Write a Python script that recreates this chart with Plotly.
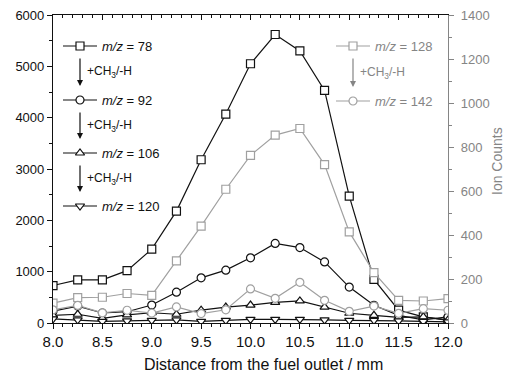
import plotly.graph_objects as go

# ---- data ----
distance = [8.0, 8.25, 8.5, 8.75, 9.0, 9.25, 9.5, 9.75, 10.0, 10.25, 10.5, 10.75, 11.0, 11.25, 11.5, 11.75, 12.0]
mz78 = [730, 840, 840, 1020, 1440, 2180, 3180, 4070, 5050, 5620, 5300, 4530, 2470, 850, 250, 120, 50]
mz92 = [230, 330, 195, 220, 350, 600, 880, 1030, 1270, 1550, 1470, 1190, 700, 345, 150, 60, 120]
mz106 = [150, 170, 90, 160, 200, 170, 250, 310, 350, 400, 430, 310, 190, 150, 110, 120, 60]
mz120 = [80, 60, 30, 40, 50, 60, 30, 50, 70, 70, 70, 60, 50, 50, 40, 30, 20]
mz128 = [90, 115, 117, 134, 126, 282, 440, 608, 762, 854, 884, 720, 414, 229, 103, 100, 111]
mz142 = [60, 80, 46, 58, 45, 73, 43, 60, 155, 112, 185, 103, 53, 77, 44, 65, 58]
x_ticks = [8.0, 8.5, 9.0, 9.5, 10.0, 10.5, 11.0, 11.5, 12.0]
x_ticktext = ["8.0", "8.5", "9.0", "9.5", "10.0", "10.5", "11.0", "11.5", "12.0"]

left_series = [("78", mz78, "square"), ("92", mz92, "circle"),
               ("106", mz106, "triangle-up"), ("120", mz120, "triangle-down")]
right_series = [("128", mz128, "square"), ("142", mz142, "circle")]

BLACK = "#111111"
GRAY = "#a0a0a0"
AXGRAY = "#858585"
FONT = "Liberation Sans, Arial, sans-serif"

W, H = 509, 377
L, R, T, B = 53, 61, 15, 54
PW, PH = W - L - R, H - B - T

fig = go.Figure()

for name, vals, sym in right_series:
    fig.add_trace(go.Scatter(x=distance, y=vals, mode="lines+markers", yaxis="y2",
                             line=dict(color=GRAY, width=1.2),
                             marker=dict(symbol=sym, size=8, color="white",
                                         line=dict(color=GRAY, width=1.2)),
                             showlegend=False))
for name, vals, sym in left_series:
    fig.add_trace(go.Scatter(x=distance, y=vals, mode="lines+markers",
                             line=dict(color=BLACK, width=1.2),
                             marker=dict(symbol=sym, size=8, color="white",
                                         line=dict(color=BLACK, width=1.2)),
                             showlegend=False))

# top axis with inward ticks (invisible helper trace)
fig.add_trace(go.Scatter(x=[8, 12], y=[0, 0], xaxis="x2", mode="markers",
                         marker=dict(opacity=0), showlegend=False, hoverinfo="skip"))

# ---- custom legends on a pixel-coordinate overlay axis ----
def leg_sample(xc, yc, sym, color):
    fig.add_trace(go.Scatter(x=[xc - 17, xc + 17], y=[yc, yc], xaxis="x3", yaxis="y3",
                             mode="lines", line=dict(color=color, width=1.2),
                             showlegend=False, hoverinfo="skip"))
    fig.add_trace(go.Scatter(x=[xc], y=[yc], xaxis="x3", yaxis="y3", mode="markers",
                             marker=dict(symbol=sym, size=8, color="white",
                                         line=dict(color=color, width=1.2)),
                             showlegend=False, hoverinfo="skip"))

annotations = []
left_y = [46, 100, 153, 206]
for (name, vals, sym), yy in zip(left_series, left_y):
    leg_sample(80, yy, sym, BLACK)
    annotations.append(dict(x=100, y=yy, xref="x3", yref="y3", xanchor="left", yanchor="middle",
                            text=f"<i>m/z</i> = {name}", showarrow=False,
                            font=dict(family=FONT, size=13, color=BLACK)))
for y0, y1 in zip(left_y[:-1], left_y[1:]):
    annotations.append(dict(x=80, y=y1 - 14, xref="x3", yref="y3", ax=80, ay=y0 + 11,
                            axref="x3", ayref="y3", text="", showarrow=True,
                            arrowhead=2, arrowsize=1, arrowwidth=1.2, arrowcolor=BLACK))
    annotations.append(dict(x=85, y=(y0 + y1) / 2 - 1, xref="x3", yref="y3", xanchor="left",
                            yanchor="middle", text="+CH<sub>3</sub>/-H", showarrow=False,
                            font=dict(family=FONT, size=12, color=BLACK)))

right_y = [46, 101]
for (name, vals, sym), yy in zip(right_series, right_y):
    leg_sample(353, yy, sym, GRAY)
    annotations.append(dict(x=373, y=yy, xref="x3", yref="y3", xanchor="left", yanchor="middle",
                            text=f"<i>m/z</i> = {name}", showarrow=False,
                            font=dict(family=FONT, size=13, color=AXGRAY)))
annotations.append(dict(x=353, y=right_y[1] - 14, xref="x3", yref="y3", ax=353, ay=right_y[0] + 11,
                        axref="x3", ayref="y3", text="", showarrow=True,
                        arrowhead=2, arrowsize=1, arrowwidth=1.2, arrowcolor=AXGRAY))
annotations.append(dict(x=358, y=(right_y[0] + right_y[1]) / 2 - 1, xref="x3", yref="y3",
                        xanchor="left", yanchor="middle", text="+CH<sub>3</sub>/-H",
                        showarrow=False, font=dict(family=FONT, size=12, color=AXGRAY)))
# right axis title
annotations.append(dict(x=(497 - L) / PW, y=(H - B - 161) / PH, xref="paper", yref="paper",
                        xanchor="center", yanchor="middle", textangle=-90, text="Ion Counts",
                        showarrow=False, font=dict(family=FONT, size=14, color=AXGRAY)))
# x axis title
annotations.append(dict(x=(263 - L) / PW, y=(H - B - 364) / PH, xref="paper", yref="paper",
                        xanchor="center", yanchor="middle", text="Distance from the fuel outlet / mm",
                        showarrow=False, font=dict(family=FONT, size=16, color=BLACK)))

fig.update_layout(
    width=W, height=H,
    margin=dict(l=L, r=R, t=T, b=B, pad=0, autoexpand=False),
    paper_bgcolor="white", plot_bgcolor="white",
    font=dict(family=FONT, size=13, color=BLACK),
    xaxis=dict(range=[8, 12], tickvals=x_ticks, ticktext=x_ticktext, automargin=False,
               ticks="outside", ticklen=5, tickwidth=1.2, tickcolor=BLACK,
               minor=dict(dtick=0.1, ticks="outside", ticklen=3, tickcolor=BLACK, tickwidth=1),
               showline=True, linecolor=BLACK, linewidth=1.2, showgrid=False, zeroline=False,
               tickfont=dict(family=FONT, size=15, color=BLACK)),
    xaxis2=dict(overlaying="x", side="top", range=[8, 12], dtick=0.5, ticks="inside",
                ticklen=5, tickwidth=1.2, tickcolor=BLACK, showticklabels=False, automargin=False,
                minor=dict(dtick=0.1, ticks="inside", ticklen=3, tickcolor=BLACK),
                showline=True, linecolor=BLACK, linewidth=1.2, showgrid=False, zeroline=False),
    yaxis=dict(range=[0, 6000], dtick=1000, ticks="outside", ticklen=5, tickwidth=1.2,
               tickcolor=BLACK, automargin=False,
               minor=dict(dtick=500, ticks="outside", ticklen=3, tickcolor=BLACK),
               showline=True, linecolor=BLACK, linewidth=1.2, showgrid=False, zeroline=False,
               tickfont=dict(family=FONT, size=13, color=BLACK)),
    yaxis2=dict(overlaying="y", side="right", range=[0, 1400], dtick=200, ticks="outside",
                ticklen=5, tickwidth=1.2, tickcolor=AXGRAY, automargin=False,
                minor=dict(dtick=100, ticks="outside", ticklen=3, tickcolor=AXGRAY),
                showline=True, linecolor=AXGRAY, linewidth=1.2, showgrid=False, zeroline=False,
                ticklabelstandoff=4,
                tickfont=dict(family=FONT, size=13, color=AXGRAY)),
    xaxis3=dict(overlaying="x", range=[L, W - R], visible=False, fixedrange=True),
    yaxis3=dict(overlaying="y", range=[H - B, T], visible=False, fixedrange=True),
    annotations=annotations,
    showlegend=False,
)

fig.write_html("out.html")
